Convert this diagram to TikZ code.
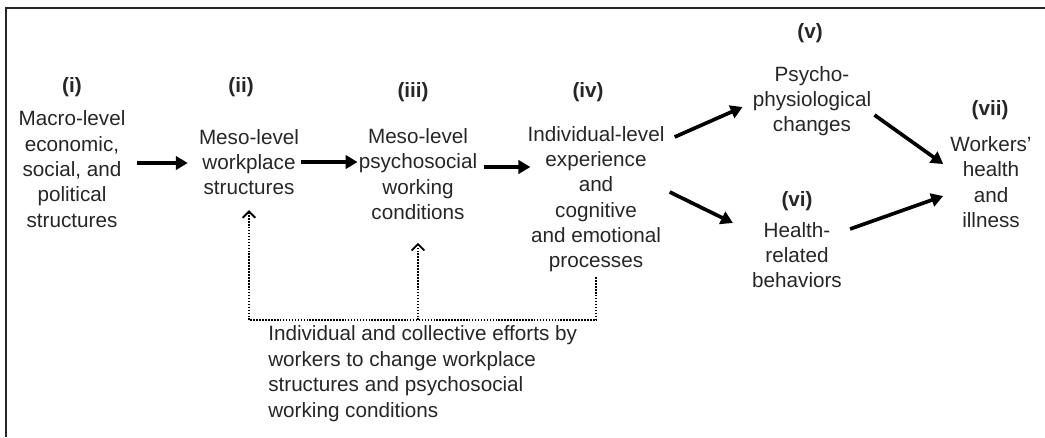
\documentclass[tikz,border=0pt]{standalone}
\usepackage{xcolor}
\usepackage{fontspec}
\setmainfont{Liberation Sans}
\usepackage{tikz}
\usetikzlibrary{calc, arrows.meta}
\definecolor{inkgray}{RGB}{38,38,38}

\begin{document}
\begin{tikzpicture}[
			x=0.025cm, y=-0.025cm,
			stage/.style={inner sep=0pt, align=center, text=inkgray, font=\fontsize{14.7}{18}\selectfont},
			tag/.style={inner sep=0pt, text=inkgray, font=\fontsize{14.7}{18}\selectfont\bfseries},
			effort/.style={inner sep=0pt, align=left, text=inkgray, font=\fontsize{14.7}{18.3}\selectfont},
			flow/.style={-{Triangle[length=8.5pt, width=9.5pt]}, line width=2.6pt},
			feedline/.style={line width=1.6pt, dash pattern=on 1.1pt off 1pt},
			feedback/.style={feedline, -{Straight Barb[length=4.5pt, width=9pt, line width=1.3pt]}}
		]
		\useasboundingbox (0,0) rectangle (1045,437);
		\draw[inkgray, line width=1pt] (6,437) -- (6,8) -- (1045,8);

		\node[stage] (macro) at (72,169) {Macro-level\\economic,\\social, and\\political\\structures};
		\node[stage] (workplace) at (249,162) {Meso-level\\workplace\\structures};
		\node[stage] (psychosocial) at (418,174) {Meso-level\\psychosocial\\working\\conditions};
		\node[stage] (individual) at (596,199) {Individual-level\\experience\\and\\cognitive\\and emotional\\processes};
		\node[stage] (physio) at (812,101) {Psycho-\\physiological\\changes};
		\node[stage] (behavior) at (797,255) {Health-\\related\\behaviors};
		\node[stage] (health) at (991,182) {Workers'\\health\\and\\illness};

		\node[tag] (tag1) at (72,87) {(i)};
		\node[tag] (tag2) at (241,87) {(ii)};
		\node[tag] (tag3) at (413,92) {(iii)};
		\node[tag] (tag4) at (588,92) {(iv)};
		\node[tag] (tag5) at (810,33) {(v)};
		\node[tag] (tag6) at (797,201) {(vi)};
		\node[tag] (tag7) at (990,110) {(vii)};

		\node[effort, anchor=north west] (efforts) at (268,325) {Individual and collective efforts by\\workers to change workplace\\structures and psychosocial\\working conditions};

		\draw[flow] ([shift={(11,-6)}]macro.east) -- ([shift={(-11,1)}]workplace.west);
		\draw[flow] ([shift={(2,0)}]workplace.east) -- ([shift={(-1,-12)}]psychosocial.west);
		\draw[flow] ([shift={(7,-7)}]psychosocial.east) -- ([shift={(3,-32)}]individual.west);
		\draw[flow] ([shift={(10,-62)}]individual.east) -- ([shift={(-10,6)}]physio.west);
		\draw[flow] ([shift={(5,-7)}]individual.east) -- ([shift={(-19,-32)}]behavior.west);
		\draw[flow] ([shift={(3,14)}]physio.east) -- ([shift={(-7,-18)}]health.west);
		\draw[flow] ([shift={(8,-26)}]behavior.east) -- ([shift={(-7,14)}]health.west);

		\path (workplace.south |- efforts.north) ++(0,-5) coordinate (corner);
		\draw[feedline] ([shift={(0,5)}]individual.south) |- (corner);
		\draw[feedback] (corner) -- ([shift={(0,15)}]workplace.south);
		\draw[feedback] (psychosocial.south |- corner) -- ([shift={(0,23)}]psychosocial.south);
	\end{tikzpicture}
\end{document}
